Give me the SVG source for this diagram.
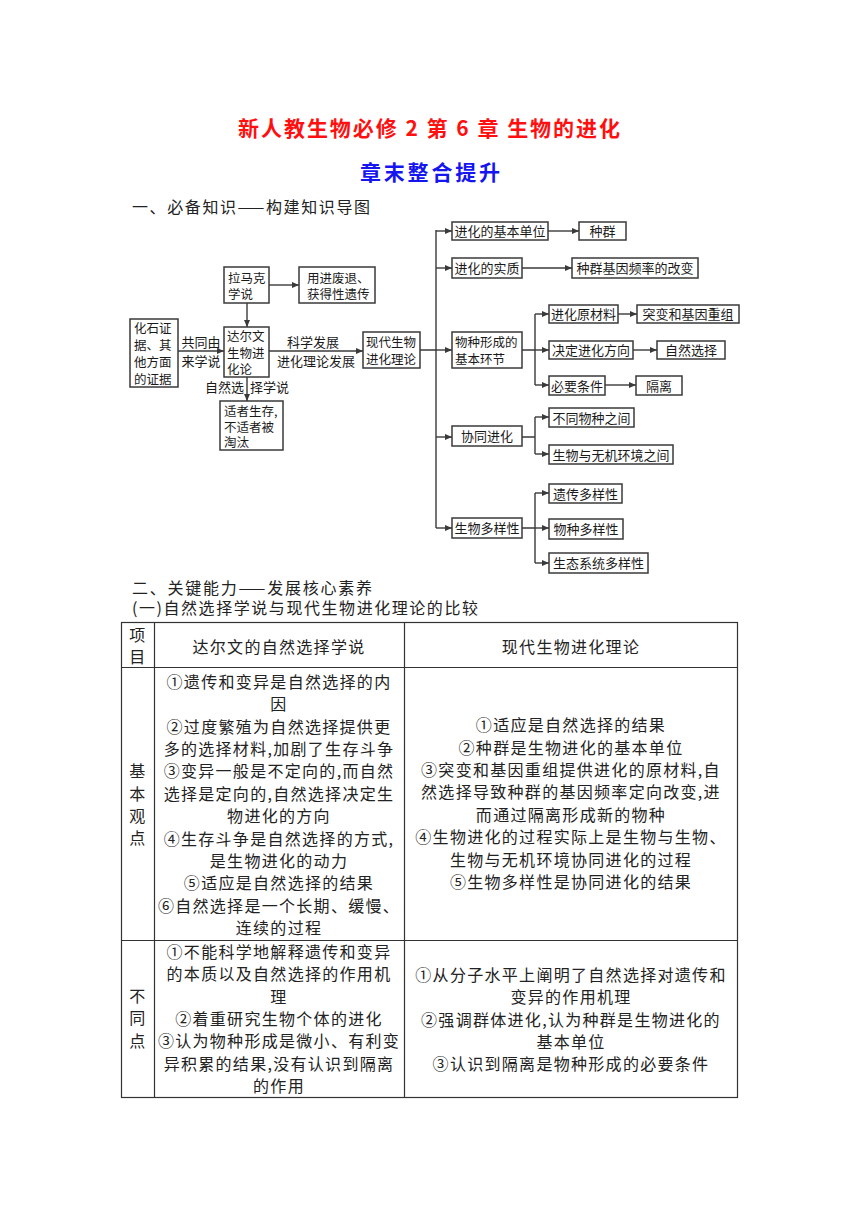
<svg xmlns="http://www.w3.org/2000/svg" width="860" height="1216" viewBox="0 0 860 1216">
<style>
text{font-family:"Noto Sans CJK SC","Liberation Sans",sans-serif;}
.m{font-size:13px;fill:#1a1a1a;}
.m2{font-size:12.5px;fill:#1a1a1a;}
.mc{font-size:13px;fill:#1a1a1a;text-anchor:middle;}
.box{fill:#fff;stroke:#3a3a3a;stroke-width:1.5;}
.ln{fill:none;stroke:#3a3a3a;stroke-width:1.4;}
.ar{fill:none;stroke:#3a3a3a;stroke-width:1.4;marker-end:url(#ah);}
.t{font-size:16px;fill:#222;text-anchor:middle;letter-spacing:1.3px;}
.h{font-size:16px;fill:#222;}
.grid{fill:none;stroke:#333;stroke-width:1.2;}
</style>
<defs>
<marker id="ah" markerUnits="userSpaceOnUse" markerWidth="7" markerHeight="6" refX="7" refY="3" orient="auto">
<path d="M0,0 L7,3 L0,6 z" fill="#3a3a3a"/>
</marker>
</defs>
<rect width="860" height="1216" fill="#fff"/>

<g id="titles">
<text x="238" y="136" font-size="21" font-weight="bold" fill="#ff1010" textLength="382" lengthAdjust="spacing">新人教生物必修 2 第 6 章 生物的进化</text>
<text x="360" y="180" font-size="21" font-weight="bold" fill="#1515f0" textLength="140" lengthAdjust="spacing">章末整合提升</text>
<text class="h" x="132" y="213" textLength="238" lengthAdjust="spacing">一、必备知识——构建知识导图</text>
<text class="h"><tspan x="132" y="594" textLength="240" lengthAdjust="spacing">二、关键能力——发展核心素养</tspan><tspan x="132" y="614" textLength="346" lengthAdjust="spacing">(一)自然选择学说与现代生物进化理论的比较</tspan></text>
</g>

<g id="connectors">
<path class="ar" d="M269,285 H299"/>
<path class="ar" d="M247,303 V327"/>
<path class="ar" d="M178,351 H224"/>
<path class="ar" d="M269,351 H363"/>
<path class="ar" d="M247,377 V401"/>
<path class="ln" d="M420,350 H436 M436,230 V528"/>
<path class="ar" d="M436,231 H452"/>
<path class="ar" d="M436,268 H452"/>
<path class="ar" d="M436,350 H452"/>
<path class="ar" d="M436,437 H452"/>
<path class="ar" d="M436,528 H452"/>
<path class="ar" d="M548,231 H579"/>
<path class="ar" d="M522,268 H572"/>
<path class="ln" d="M522,350 H535 M535,314 V385"/>
<path class="ar" d="M535,314 H549"/>
<path class="ar" d="M535,350 H549"/>
<path class="ar" d="M535,385 H549"/>
<path class="ar" d="M618,314 H637"/>
<path class="ar" d="M633,350 H657"/>
<path class="ar" d="M605,385 H636"/>
<path class="ln" d="M522,437 H535 M535,417 V454"/>
<path class="ar" d="M535,417 H549"/>
<path class="ar" d="M535,454 H549"/>
<path class="ln" d="M522,528 H535 M535,493 V563"/>
<path class="ar" d="M535,493 H549"/>
<path class="ar" d="M535,528 H549"/>
<path class="ar" d="M535,563 H549"/>
<text class="mc"><tspan x="201" y="347">共同由</tspan><tspan x="201" y="366">来学说</tspan></text>
<text class="mc"><tspan x="313" y="347">科学发展</tspan><tspan x="316" y="366">进化理论发展</tspan></text>
<text class="m"><tspan x="205" y="392">自然选</tspan><tspan x="250" y="392">择学说</tspan></text>
</g>

<g id="n_fossil">
<rect class="box" x="130" y="319" width="48" height="68"/>
<text class="m2"><tspan x="134" y="333">化石证</tspan><tspan x="134" y="350">据、其</tspan><tspan x="134" y="367">他方面</tspan><tspan x="134" y="384">的证据</tspan></text>
</g>
<g id="n_lamarck">
<rect class="box" x="224" y="267" width="45" height="36"/>
<text class="m2"><tspan x="228" y="283">拉马克</tspan><tspan x="228" y="299">学说</tspan></text>
</g>
<g id="n_use">
<rect class="box" x="299" y="267" width="76" height="36"/>
<text class="m2"><tspan x="307" y="283">用进废退、</tspan><tspan x="307" y="299">获得性遗传</tspan></text>
</g>
<g id="n_darwin">
<rect class="box" x="224" y="327" width="45" height="50"/>
<text class="m2"><tspan x="227" y="341">达尔文</tspan><tspan x="227" y="358">生物进</tspan><tspan x="227" y="374">化论</tspan></text>
</g>
<g id="n_fit">
<rect class="box" x="220" y="401" width="63" height="49"/>
<text class="m2"><tspan x="224" y="416">适者生存,</tspan><tspan x="224" y="432">不适者被</tspan><tspan x="224" y="447">淘汰</tspan></text>
</g>
<g id="n_modern">
<rect class="box" x="363" y="332" width="57" height="36"/>
<text class="m2"><tspan x="366" y="347">现代生物</tspan><tspan x="366" y="364">进化理论</tspan></text>
</g>
<g id="n_unit">
<rect class="box" x="452" y="222" width="96" height="18"/>
<text class="mc" x="500" y="236">进化的基本单位</text>
</g>
<g id="n_pop">
<rect class="box" x="579" y="222" width="47" height="18"/>
<text class="mc" x="602.5" y="236">种群</text>
</g>
<g id="n_essence">
<rect class="box" x="452" y="258" width="70" height="20"/>
<text class="mc" x="487" y="273">进化的实质</text>
</g>
<g id="n_freq">
<rect class="box" x="572" y="258" width="126" height="20"/>
<text class="mc" x="635" y="273">种群基因频率的改变</text>
</g>
<g id="n_speciation">
<rect class="box" x="452" y="332" width="70" height="36"/>
<text class="m2"><tspan x="455" y="347">物种形成的</tspan><tspan x="455" y="364">基本环节</tspan></text>
</g>
<g id="n_raw">
<rect class="box" x="549" y="305" width="69" height="18"/>
<text class="mc" x="583.5" y="319">进化原材料</text>
</g>
<g id="n_mut">
<rect class="box" x="637" y="305" width="102" height="18"/>
<text class="mc" x="688" y="319">突变和基因重组</text>
</g>
<g id="n_dir">
<rect class="box" x="549" y="341" width="84" height="18"/>
<text class="mc" x="591" y="355">决定进化方向</text>
</g>
<g id="n_ns">
<rect class="box" x="657" y="341" width="68" height="18"/>
<text class="mc" x="691" y="355">自然选择</text>
</g>
<g id="n_cond">
<rect class="box" x="549" y="376" width="56" height="19"/>
<text class="mc" x="577" y="390.5">必要条件</text>
</g>
<g id="n_iso">
<rect class="box" x="636" y="376" width="46" height="19"/>
<text class="mc" x="659" y="390.5">隔离</text>
</g>
<g id="n_coev">
<rect class="box" x="452" y="426" width="70" height="20"/>
<text class="mc" x="487" y="441">协同进化</text>
</g>
<g id="n_sp">
<rect class="box" x="549" y="408" width="85" height="19"/>
<text class="mc" x="591.5" y="422.5">不同物种之间</text>
</g>
<g id="n_env">
<rect class="box" x="549" y="445" width="124" height="19"/>
<text class="mc" x="611" y="459.5">生物与无机环境之间</text>
</g>
<g id="n_div">
<rect class="box" x="452" y="518" width="70" height="20"/>
<text class="mc" x="487" y="533">生物多样性</text>
</g>
<g id="n_gen">
<rect class="box" x="549" y="484" width="73" height="19"/>
<text class="mc" x="585.5" y="498.5">遗传多样性</text>
</g>
<g id="n_spdiv">
<rect class="box" x="549" y="519" width="74" height="20"/>
<text class="mc" x="586" y="534">物种多样性</text>
</g>
<g id="n_eco">
<rect class="box" x="549" y="553" width="99" height="20"/>
<text class="mc" x="598.5" y="568">生态系统多样性</text>
</g>

<g id="table">
<rect class="grid" x="121.5" y="622.5" width="616" height="475"/>
<path class="grid" d="M154.5,622.5 V1097.5 M404.5,622.5 V1097.5 M121.5,667.5 H737.5 M121.5,940.5 H737.5"/>
<text class="t"><tspan x="138" y="641">项</tspan><tspan x="138" y="663">目</tspan></text>
<text class="t" x="279" y="653">达尔文的自然选择学说</text>
<text class="t" x="571" y="653">现代生物进化理论</text>

<text class="t"><tspan x="138" y="777">基</tspan><tspan x="138" y="800">本</tspan><tspan x="138" y="822">观</tspan><tspan x="138" y="844">点</tspan></text>

<text class="t"><tspan x="279" y="688">①遗传和变异是自然选择的内</tspan><tspan x="279" y="710">因</tspan><tspan x="279" y="733">②过度繁殖为自然选择提供更</tspan><tspan x="279" y="755">多的选择材料,加剧了生存斗争</tspan><tspan x="279" y="777">③变异一般是不定向的,而自然</tspan><tspan x="279" y="800">选择是定向的,自然选择决定生</tspan><tspan x="279" y="822">物进化的方向</tspan><tspan x="279" y="845">④生存斗争是自然选择的方式,</tspan><tspan x="279" y="867">是生物进化的动力</tspan><tspan x="279" y="889">⑤适应是自然选择的结果</tspan><tspan x="279" y="912">⑥自然选择是一个长期、缓慢、</tspan><tspan x="279" y="934">连续的过程</tspan></text>

<text class="t"><tspan x="571" y="731">①适应是自然选择的结果</tspan><tspan x="571" y="754">②种群是生物进化的基本单位</tspan><tspan x="571" y="776">③突变和基因重组提供进化的原材料,自</tspan><tspan x="571" y="798">然选择导致种群的基因频率定向改变,进</tspan><tspan x="571" y="821">而通过隔离形成新的物种</tspan><tspan x="571" y="843">④生物进化的过程实际上是生物与生物、</tspan><tspan x="571" y="866">生物与无机环境协同进化的过程</tspan><tspan x="571" y="888">⑤生物多样性是协同进化的结果</tspan></text>

<text class="t"><tspan x="138" y="1002">不</tspan><tspan x="138" y="1024">同</tspan><tspan x="138" y="1047">点</tspan></text>

<text class="t"><tspan x="279" y="958">①不能科学地解释遗传和变异</tspan><tspan x="279" y="980">的本质以及自然选择的作用机</tspan><tspan x="279" y="1003">理</tspan><tspan x="279" y="1025">②着重研究生物个体的进化</tspan><tspan x="279" y="1047">③认为物种形成是微小、有利变</tspan><tspan x="279" y="1070">异积累的结果,没有认识到隔离</tspan><tspan x="279" y="1092">的作用</tspan></text>

<text class="t"><tspan x="571" y="981">①从分子水平上阐明了自然选择对遗传和</tspan><tspan x="571" y="1003">变异的作用机理</tspan><tspan x="571" y="1026">②强调群体进化,认为种群是生物进化的</tspan><tspan x="571" y="1048">基本单位</tspan><tspan x="571" y="1070">③认识到隔离是物种形成的必要条件</tspan></text>
</g>
</svg>
